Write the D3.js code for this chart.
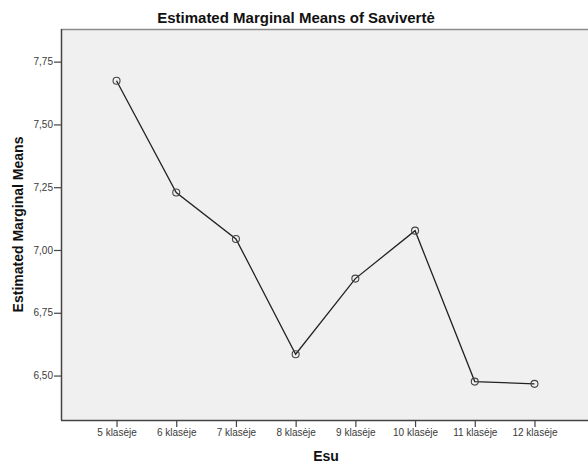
<!DOCTYPE html>
<html><head><meta charset="utf-8">
<script src="https://cdn.jsdelivr.net/npm/d3@7"></script>
<style>body{margin:0;background:#fff}svg{display:block}text{font-family:"Liberation Sans",Arial,sans-serif}</style>
</head><body>
<svg id="c" width="588" height="467"></svg>
<script>
const categories = ["5 klasėje","6 klasėje","7 klasėje","8 klasėje","9 klasėje","10 klasėje","11 klasėje","12 klasėje"];
const means = [7.674, 7.229, 7.044, 6.585, 6.886, 7.077, 6.476, 6.467];
const yTicks = [6.50, 6.75, 7.00, 7.25, 7.50, 7.75];
const title = "Estimated Marginal Means of Savivertė";
const xTitle = "Esu";
const yTitle = "Estimated Marginal Means";

const svg = d3.select("#c");
const L = 61, R = 590, T = 29, B = 420;
const x = d3.scalePoint().domain(categories).range([L, R]).padding(0.93);
const y = d3.scaleLinear().domain([6.323, 7.880]).range([B, T]);
const loc = d3.formatLocale({decimal: ",", thousands: ".", grouping: [3], currency: ["", ""]});
const fmt = loc.format(".2f");

svg.append("rect").attr("x", L).attr("y", T).attr("width", R - L).attr("height", B - T).attr("fill", "#f0f0f0");
svg.append("line").attr("x1", L).attr("x2", R).attr("y1", T + 0.5).attr("y2", T + 0.5).attr("stroke", "#8c8c8c").attr("stroke-width", 1.5);

const yAxis = svg.append("g").attr("transform", `translate(${L},0)`)
  .call(d3.axisLeft(y).tickValues(yTicks).tickFormat(fmt).tickSize(7).tickPadding(1));
const xAxis = svg.append("g").attr("transform", `translate(0,${B})`)
  .call(d3.axisBottom(x).tickSize(7).tickPadding(2));
[yAxis, xAxis].forEach(g => {
  g.select(".domain").attr("stroke", "#444").attr("stroke-width", 1.5);
  g.selectAll(".tick line").attr("stroke", "#444").attr("stroke-width", 1.2);
  g.selectAll(".tick text").attr("fill", "#3a3a3a").attr("font-size", 10).attr("font-family", '"Liberation Sans",Arial,sans-serif');
});
xAxis.select(".domain").attr("d", `M${L},0.5H${R}`);
yAxis.select(".domain").attr("d", `M0.5,${T}V${B}`);

const line = d3.line().x((d, i) => x(categories[i])).y(d => y(d));
svg.append("path").datum(means).attr("d", line).attr("fill", "none").attr("stroke", "#222").attr("stroke-width", 1.3);
svg.selectAll("circle.pt").data(means).join("circle").attr("class", "pt")
  .attr("cx", (d, i) => x(categories[i])).attr("cy", d => y(d)).attr("r", 3.5)
  .attr("fill", "none").attr("stroke", "#444").attr("stroke-width", 1.1);

svg.append("text").attr("x", 296).attr("y", 23).attr("text-anchor", "middle")
  .attr("font-size", 15).attr("font-weight", "bold").attr("fill", "#111").text(title);
svg.append("text").attr("x", 326).attr("y", 461).attr("text-anchor", "middle")
  .attr("font-size", 14).attr("font-weight", "bold").attr("fill", "#111").text(xTitle);
svg.append("text").attr("transform", `translate(23,${(T + B) / 2}) rotate(-90)`).attr("text-anchor", "middle")
  .attr("font-size", 14).attr("font-weight", "bold").attr("fill", "#111").text(yTitle);
</script>
</body></html>
